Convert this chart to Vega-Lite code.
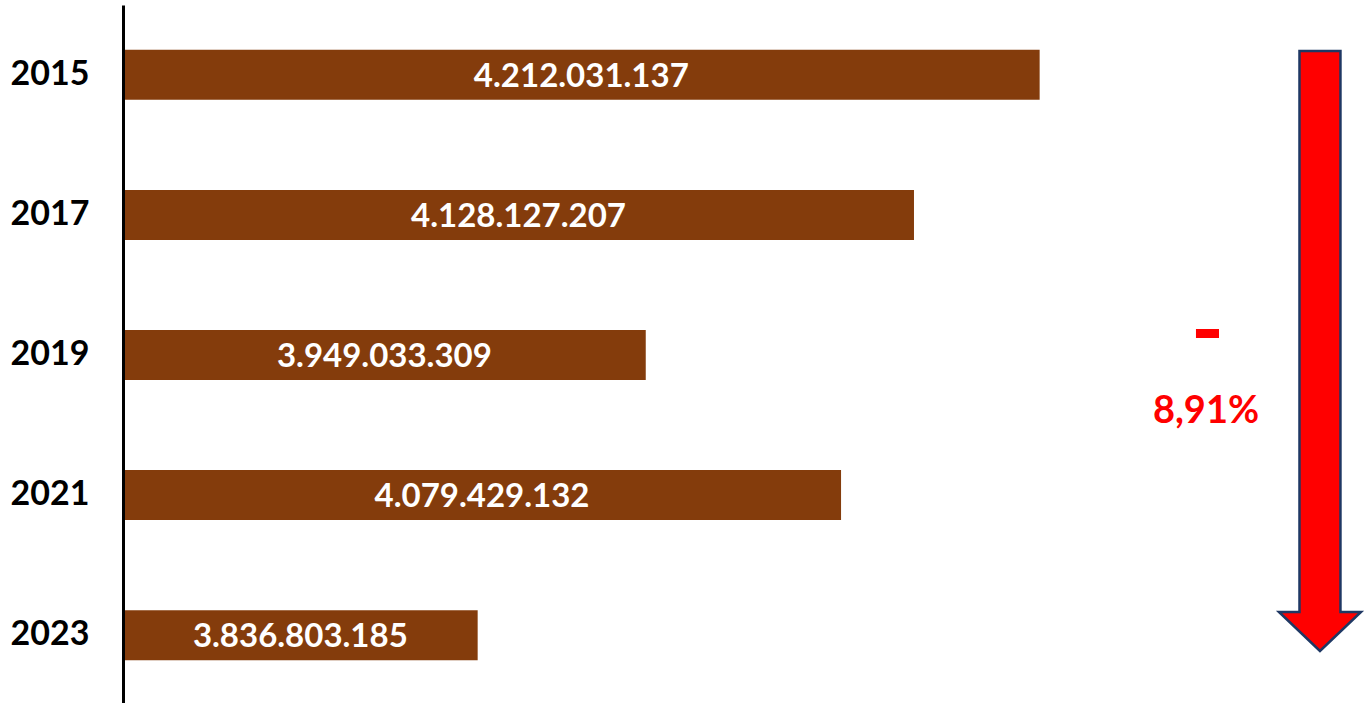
{
  "$schema": "https://vega.github.io/schema/vega-lite/v6.json",
  "width": 1244,
  "height": 700,
  "autosize": {"type": "none"},
  "padding": {"left": 123, "top": 5, "right": 0, "bottom": 0},
  "background": "white",
  "config": {
    "view": {"stroke": null},
    "locale": {"number": {"decimal": ",", "thousands": ".", "grouping": [3], "currency": ["", ""]}}
  },
  "layer": [
    {
      "data": {"values": [
        {"year": "2015", "value": 4212031137},
        {"year": "2017", "value": 4128127207},
        {"year": "2019", "value": 3949033309},
        {"year": "2021", "value": 4079429132},
        {"year": "2023", "value": 3836803185}
      ]},
      "layer": [
        {
          "mark": {"type": "bar", "color": "#843C0C", "clip": true},
          "encoding": {
            "y": {"field": "year", "type": "nominal",
              "scale": {"domain": ["2015", "2017", "2019", "2021", "2023"], "paddingInner": 0.643, "paddingOuter": 0.32},
              "axis": {"title": null, "ticks": false, "domainColor": "black", "domainWidth": 3, "labelFont": "Lato", "labelFontWeight": "bold", "labelFontSize": 34, "labelColor": "black", "labelPadding": 34, "zindex": 1}},
            "x": {"field": "value", "type": "quantitative",
              "scale": {"domain": [3600000000, 4430600000], "zero": false, "nice": false},
              "axis": null}
          }
        },
        {
          "transform": [{"calculate": "(datum.value + 3600000000) / 2", "as": "mid"}],
          "mark": {"type": "text", "color": "white", "font": "Lato", "fontWeight": "bold", "fontSize": 33, "baseline": "middle", "align": "center", "dy": 2},
          "encoding": {
            "y": {"field": "year", "type": "nominal"},
            "x": {"field": "mid", "type": "quantitative"},
            "text": {"field": "value", "type": "quantitative", "format": ",d"}
          }
        }
      ]
    },
    {
      "data": {"values": [{"year": "2019", "pos": 4399200000}]},
      "mark": {"type": "point", "shape": "M -0.0683 -1 L 0.0683 -1 L 0.0683 0.87 L 0.1367 0.87 L 0 1 L -0.1367 0.87 L -0.0683 0.87 Z", "size": 360000, "filled": true, "fill": "#FF0000", "stroke": "#1F3864", "strokeWidth": 2.5, "opacity": 1, "fillOpacity": 1, "strokeOpacity": 1, "yOffset": -4},
      "encoding": {
        "y": {"field": "year", "type": "nominal"},
        "x": {"field": "pos", "type": "quantitative"}
      }
    },
    {
      "data": {"values": [{"year": "2019", "start": 4316400000, "end": 4331800000}]},
      "mark": {"type": "rule", "color": "#FF0000", "strokeWidth": 9, "strokeCap": "butt", "yOffset": -21.5},
      "encoding": {
        "y": {"field": "year", "type": "nominal"},
        "x": {"field": "start", "type": "quantitative"},
        "x2": {"field": "end"}
      }
    },
    {
      "data": {"values": [{"year": "2019", "pos": 4323100000, "label": "8,91%"}]},
      "mark": {"type": "text", "color": "#FF0000", "font": "Lato", "fontWeight": "bold", "fontSize": 38, "align": "center", "baseline": "alphabetic", "dy": 68},
      "encoding": {
        "y": {"field": "year", "type": "nominal"},
        "x": {"field": "pos", "type": "quantitative"},
        "text": {"field": "label", "type": "nominal"}
      }
    }
  ]
}
